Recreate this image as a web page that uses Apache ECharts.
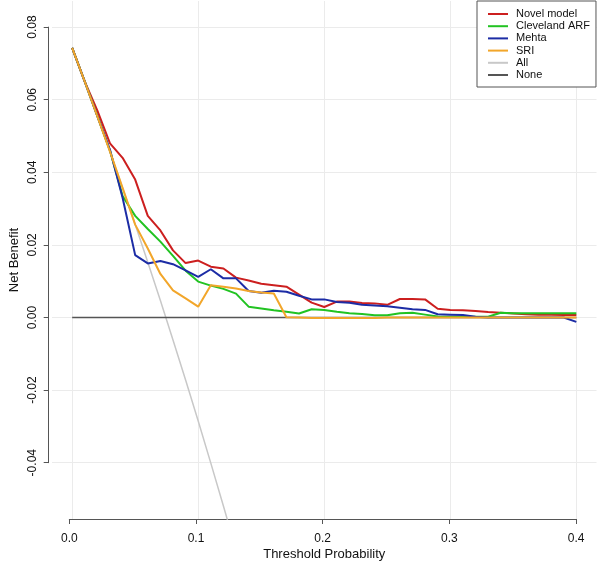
<!DOCTYPE html>
<html>
<head>
<meta charset="utf-8">
<script src="https://cdn.jsdelivr.net/npm/echarts@6/dist/echarts.min.js"></script>
<style>html,body{margin:0;padding:0;background:#fff;}#c{width:597px;height:572px;}</style>
</head>
<body>
<div id="c"></div>
<script>
// ---- data ----
const thresholds = [0.00,0.01,0.02,0.03,0.04,0.05,0.06,0.07,0.08,0.09,0.10,0.11,0.12,0.13,0.14,0.15,0.16,0.17,0.18,0.19,0.20,0.21,0.22,0.23,0.24,0.25,0.26,0.27,0.28,0.29,0.30,0.31,0.32,0.33,0.34,0.35,0.36,0.37,0.38,0.39,0.40];
const novelModel = [0.0743,0.0650,0.0570,0.0480,0.0440,0.0380,0.0280,0.0240,0.0185,0.0150,0.0157,0.0140,0.0135,0.0110,0.0102,0.0093,0.0089,0.0085,0.0063,0.0041,0.0029,0.0044,0.0044,0.0040,0.0039,0.0035,0.0051,0.0051,0.0050,0.0024,0.0021,0.0020,0.0018,0.0015,0.0013,0.0011,0.0009,0.0008,0.0008,0.0007,0.0007];
const clevelandARF = [0.0743,0.0650,0.0555,0.0460,0.0335,0.0280,0.0244,0.0209,0.0170,0.0129,0.0099,0.0088,0.0079,0.0066,0.0030,0.0025,0.0020,0.0016,0.0011,0.0023,0.0021,0.0016,0.0012,0.0010,0.0006,0.0006,0.0012,0.0013,0.0008,0.0003,0.0002,0.0002,0.0002,0.0002,0.0013,0.0012,0.0012,0.0012,0.0012,0.0012,0.0012];
const mehta = [0.0743,0.0650,0.0555,0.0462,0.0330,0.0172,0.0149,0.0156,0.0147,0.0130,0.0112,0.0133,0.0108,0.0108,0.0073,0.0068,0.0074,0.0071,0.0060,0.0050,0.0050,0.0043,0.0041,0.0035,0.0033,0.0031,0.0027,0.0023,0.0021,0.0009,0.0008,0.0007,0.0002,0.0000,0.0000,0.0000,0.0000,0.0000,0.0000,0.0000,-0.0012];
const sri = [0.0743,0.0650,0.0554,0.0457,0.0357,0.0256,0.0190,0.0120,0.0075,0.0053,0.0030,0.0089,0.0085,0.0080,0.0073,0.0069,0.0066,0.0001,0.0000,-0.0001,-0.0001,-0.0001,-0.0001,-0.0001,-0.0001,0.0000,0.0000,0.0000,0.0000,0.0000,0.0000,0.0000,0.0000,0.0000,0.0000,0.0000,0.0000,0.0000,0.0000,0.0000,0.0000];
const allTreat = [0.0743,0.0650,0.0554,0.0457,0.0357,0.0256,0.0152,0.0047,-0.0062,-0.0172,-0.0285,-0.0401,-0.0519,-0.0640];
const noneTreat = [0,0,0,0,0,0,0,0,0,0,0,0,0,0,0,0,0,0,0,0,0,0,0,0,0,0,0,0,0,0,0,0,0,0,0,0,0,0,0,0,0];
const xTicks = [0.0,0.1,0.2,0.3,0.4];
const yTicks = [-0.04,-0.02,0.00,0.02,0.04,0.06,0.08];
const seriesNames = ['Novel model','Cleveland ARF','Mehta','SRI','All','None'];

// ---- chart ----
const FONT = '"Liberation Sans", Arial, sans-serif';
const pair = (arr) => arr.map((v, i) => [thresholds[i], v]);
const chart = echarts.init(document.getElementById('c'), null, {renderer: 'canvas'});

const curve = (name, data, color, width, z) => ({
  name, type: 'line', data, xAxisIndex: 0, yAxisIndex: 0,
  symbol: 'none', showSymbol: false, clip: true, z,
  lineStyle: {color, width}, itemStyle: {color},
  emphasis: {disabled: true}, animation: false
});

chart.setOption({
  animation: false,
  textStyle: {fontFamily: FONT},
  grid: [
    {left: 49, right: 0.5, top: 1, bottom: 53, containLabel: false},
    {left: 69.3, right: 20.9, top: 27.1, bottom: 109.3, containLabel: false}
  ],
  xAxis: [
    {gridIndex: 0, type: 'value', min: -0.016, max: 0.416,
     axisLine: {show: false}, axisTick: {show: false}, axisLabel: {show: false}, splitLine: {show: false},
     name: 'Threshold Probability', nameLocation: 'middle', nameGap: 29,
     nameTextStyle: {fontSize: 13, color: '#111', fontFamily: FONT}},
    {gridIndex: 1, type: 'value', min: 0, max: 0.4, interval: 0.1, position: 'bottom', offset: 56.3,
     axisLine: {show: true, onZero: false, lineStyle: {color: '#555', width: 1}},
     axisTick: {show: true, length: 5, lineStyle: {color: '#555'}},
     axisLabel: {show: true, margin: 14, fontSize: 12, color: '#111', fontFamily: FONT,
       formatter: v => v.toFixed(1)},
     splitLine: {show: false}}
  ],
  yAxis: [
    {gridIndex: 0, type: 'value', min: -0.0555, max: 0.0872,
     axisLine: {show: false}, axisTick: {show: false}, axisLabel: {show: false}, splitLine: {show: false},
     name: 'Net Benefit', nameLocation: 'middle', nameGap: 31,
     nameTextStyle: {fontSize: 13, color: '#111', fontFamily: FONT}},
    {gridIndex: 1, type: 'value', min: -0.04, max: 0.08, interval: 0.02, position: 'left', offset: 20.6,
     axisLine: {show: true, onZero: false, lineStyle: {color: '#555', width: 1}},
     axisTick: {show: true, length: 5, lineStyle: {color: '#555'}},
     axisLabel: {show: true, rotate: 90, margin: 10, fontSize: 12, color: '#111', fontFamily: FONT,
       formatter: v => v.toFixed(2)},
     splitLine: {show: false}}
  ],
  legend: {
    data: seriesNames, orient: 'vertical', left: 477, top: 1, z: 20,
    icon: 'rect',
    padding: [7, 6, 6, 11], itemGap: 0.2, itemWidth: 20, itemHeight: 2,
    borderColor: '#555', borderWidth: 1, borderRadius: 0, backgroundColor: '#fff',
    textStyle: {fontSize: 11, lineHeight: 12, color: '#111', fontFamily: FONT, padding: [0, 0, 0, 3]},
    selectedMode: false
  },
  series: [
    {name: 'grid', type: 'line', data: [], xAxisIndex: 0, yAxisIndex: 0, z: 1, silent: true,
     markLine: {silent: true, z: 1, symbol: ['none', 'none'], label: {show: false}, animation: false,
       lineStyle: {color: '#ebebeb', width: 1, type: 'solid'},
       emphasis: {disabled: true},
       data: xTicks.map(v => ({xAxis: v})).concat(yTicks.map(v => ({yAxis: v})))}},
    curve('All', pair(allTreat), '#c8c8c8', 1.5, 2),
    curve('None', pair(noneTreat), '#555555', 1.5, 3),
    curve('Novel model', pair(novelModel), '#cc1f1f', 2, 4),
    curve('Cleveland ARF', pair(clevelandARF), '#22c322', 2, 5),
    curve('Mehta', pair(mehta), '#1c2ca5', 2, 6),
    curve('SRI', pair(sri), '#f2a62a', 2, 7)
  ]
});
</script>
</body>
</html>
